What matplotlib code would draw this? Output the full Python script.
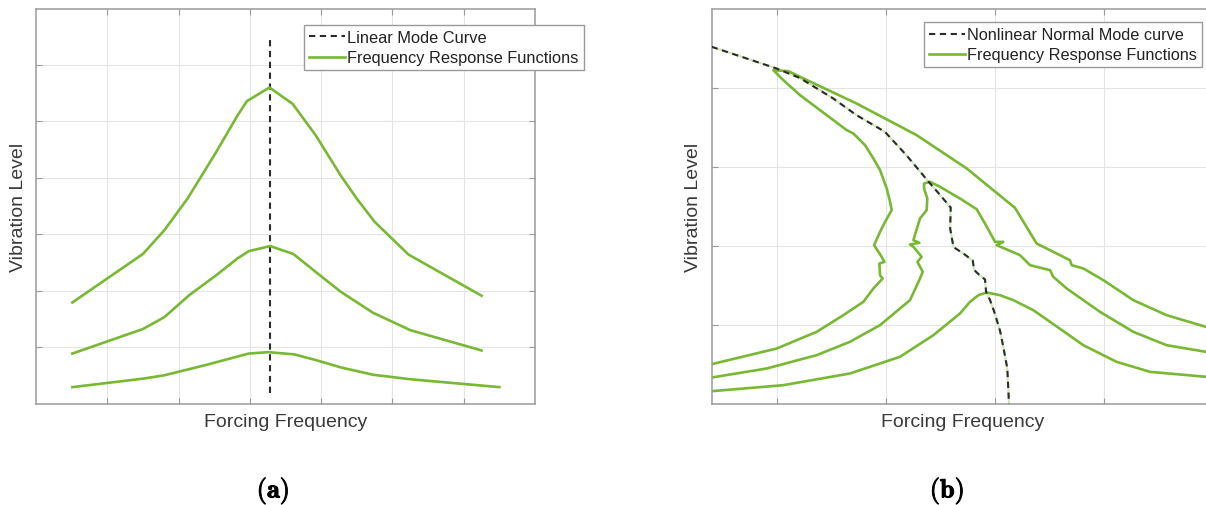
import numpy as np
import matplotlib
matplotlib.use("Agg")
import matplotlib.pyplot as plt
import matplotlib.patheffects as pe

plt.rcParams["font.family"] = ["Liberation Sans", "DejaVu Sans"]
plt.rcParams["mathtext.fontset"] = "cm"

GREEN = "#78b833"
DASH = "#2b2b2b"
SPINE = "#9a9a9a"
TEXT = "#3a3a3a"

# ---- panel (a): linear system ----
lmc_x = [3.285, 3.285]
lmc_y = [0.18, 6.46]

frf_a_high_x = [0.51, 1.50, 1.80, 2.125, 2.525, 2.825, 2.96, 3.275, 3.60, 3.925, 4.275, 4.50, 4.75, 5.225, 6.25]
frf_a_high_y = [1.79, 2.65, 3.07, 3.63, 4.45, 5.10, 5.36, 5.60, 5.31, 4.75, 4.04, 3.63, 3.22, 2.64, 1.91]

frf_a_mid_x = [0.51, 1.50, 1.80, 2.15, 2.525, 2.825, 2.985, 3.285, 3.61, 3.925, 4.275, 4.725, 5.25, 6.25]
frf_a_mid_y = [0.885, 1.32, 1.53, 1.92, 2.27, 2.57, 2.70, 2.79, 2.65, 2.33, 1.98, 1.61, 1.30, 0.94]

frf_a_low_x = [0.51, 1.50, 1.80, 2.375, 2.985, 3.26, 3.625, 3.925, 4.275, 4.725, 5.25, 6.50]
frf_a_low_y = [0.29, 0.44, 0.50, 0.68, 0.885, 0.91, 0.87, 0.77, 0.64, 0.51, 0.43, 0.29]

# ---- panel (b): nonlinear system ----
nnm_x = [0.40, 0.997, 1.21, 1.517, 1.73, 1.99, 2.19, 2.39, 2.497, 2.595, 2.59, 2.62, 2.71,
         2.797, 2.81, 2.864, 2.91, 2.92, 2.956, 3.00, 3.05, 3.08, 3.115, 3.13]
nnm_y = [4.515, 4.24, 4.12, 3.86, 3.65, 3.44, 3.14, 2.81, 2.64, 2.48, 2.215, 1.98, 1.90,
         1.81, 1.69, 1.62, 1.57, 1.41, 1.31, 1.14, 0.91, 0.70, 0.44, 0.0]

frf_b_high_x = [0.40, 0.997, 1.364, 1.609, 1.793, 1.885, 1.970, 1.946, 1.940, 1.986, 1.961, 1.891,
                1.946, 1.992, 2.053, 2.038, 2.007, 1.946, 1.885, 1.808, 1.701, 1.640, 1.456, 1.211,
                1.058, 0.966, 1.104, 1.211, 1.731, 2.282, 2.742, 3.185, 3.384, 3.476, 3.690, 3.706,
                3.813, 3.997, 4.272, 4.578, 4.939]
frf_b_high_y = [0.498, 0.696, 0.907, 1.118, 1.287, 1.456, 1.582, 1.624, 1.772, 1.793, 1.857, 2.004,
                2.173, 2.300, 2.447, 2.553, 2.722, 2.954, 3.101, 3.270, 3.418, 3.460, 3.650, 3.903,
                4.093, 4.219, 4.207, 4.135, 3.797, 3.397, 2.975, 2.477, 2.025, 1.962, 1.814, 1.751,
                1.709, 1.561, 1.308, 1.118, 0.970]

frf_b_mid_x = [0.40, 0.905, 1.364, 1.670, 1.946, 2.129, 2.221, 2.313, 2.338, 2.289, 2.328, 2.252,
               2.221, 2.307, 2.252, 2.313, 2.374, 2.380, 2.350, 2.350, 2.405, 2.497, 2.680, 2.833,
               2.910, 3.002, 3.078, 3.017, 3.231, 3.293, 3.323, 3.507, 3.537, 3.660, 3.966, 4.272,
               4.578, 4.939]
frf_b_mid_y = [0.329, 0.443, 0.612, 0.781, 0.992, 1.203, 1.308, 1.582, 1.667, 1.793, 1.857, 1.983,
               2.013, 2.034, 2.068, 2.342, 2.447, 2.595, 2.722, 2.785, 2.806, 2.743, 2.595, 2.460,
               2.278, 2.046, 2.046, 2.004, 1.878, 1.793, 1.751, 1.688, 1.603, 1.456, 1.160, 0.907,
               0.738, 0.654]

frf_b_low_x = [0.40, 1.058, 1.670, 2.129, 2.436, 2.680, 2.772, 2.849, 2.925, 3.048, 3.170, 3.354,
               3.507, 3.813, 4.119, 4.425, 4.939]
frf_b_low_y = [0.156, 0.232, 0.380, 0.591, 0.865, 1.139, 1.287, 1.371, 1.405, 1.371, 1.308, 1.181,
               1.034, 0.738, 0.527, 0.401, 0.338]


def style_axes(ax, xticks, yticks):
    ax.set_xticks(xticks)
    ax.set_yticks(yticks)
    ax.set_xticklabels([])
    ax.set_yticklabels([])
    ax.tick_params(direction="in", length=4, width=0.8, color=SPINE,
                   top=True, right=True)
    ax.grid(True, color="#e4e4e4", linewidth=0.8)
    ax.set_axisbelow(True)
    for s in ax.spines.values():
        s.set_color(SPINE)
        s.set_linewidth(1.1)


fig = plt.figure(figsize=(12.06, 5.06), dpi=100)
W, H = 1206, 506

# left panel
ax1 = fig.add_axes([36 / W, (H - 404.5) / H, 499 / W, 395 / H])
ax1.set_xlim(0, 7)
ax1.set_ylim(0, 7)
style_axes(ax1, range(1, 7), range(1, 7))
ax1.plot(lmc_x, lmc_y, color=DASH, lw=1.5, ls=(0, (3, 2.2)), label="Linear Mode Curve")
ax1.plot(frf_a_high_x, frf_a_high_y, color=GREEN, lw=1.9, label="Frequency Response Functions")
ax1.plot(frf_a_mid_x, frf_a_mid_y, color=GREEN, lw=1.9)
ax1.plot(frf_a_low_x, frf_a_low_y, color=GREEN, lw=1.9)
ax1.set_xlabel("Forcing Frequency", fontsize=14, color=TEXT)
ax1.set_ylabel("Vibration Level", fontsize=14, color=TEXT)
ax1.xaxis.set_label_coords(0.5, -0.024)
ax1.yaxis.set_label_coords(-0.018, 0.5)
leg1 = ax1.legend(loc="upper left", bbox_to_anchor=(0.537, 0.958), fontsize=11.8,
                  handlelength=2.2, handletextpad=0.15, labelspacing=0.32,
                  borderpad=0.3, borderaxespad=0, fancybox=False, framealpha=1)
leg1.get_frame().set_edgecolor(SPINE)
for t in leg1.get_texts():
    t.set_color("#222222")

# right panel
ax2 = fig.add_axes([711.7 / W, (H - 404.5) / H, 500.9 / W, 395 / H])
ax2.set_xlim(0.4, 5.0)
ax2.set_ylim(0, 5)
style_axes(ax2, range(1, 5), range(1, 5))
ax2.plot(nnm_x, nnm_y, color="#cfe8b8", lw=1.5, zorder=2)
ax2.plot(nnm_x, nnm_y, color=DASH, lw=1.5, ls=(0, (3, 2.2)), zorder=3,
         label="Nonlinear Normal Mode curve")
ax2.plot(frf_b_high_x, frf_b_high_y, color=GREEN, lw=1.9, zorder=2,
         label="Frequency Response Functions")
ax2.plot(frf_b_mid_x, frf_b_mid_y, color=GREEN, lw=1.9, zorder=2)
ax2.plot(frf_b_low_x, frf_b_low_y, color=GREEN, lw=1.9, zorder=2)
ax2.set_xlabel("Forcing Frequency", fontsize=14, color=TEXT)
ax2.set_ylabel("Vibration Level", fontsize=14, color=TEXT)
ax2.xaxis.set_label_coords(0.5, -0.024)
ax2.yaxis.set_label_coords(-0.019, 0.5)
leg2 = ax2.legend(loc="upper left", bbox_to_anchor=(0.424, 0.965), fontsize=11.7,
                  handlelength=2.2, handletextpad=0.15, labelspacing=0.32,
                  borderpad=0.3, borderaxespad=0, fancybox=False, framealpha=1)
leg2.get_frame().set_edgecolor(SPINE)
for t in leg2.get_texts():
    t.set_color("#222222")

bold = [pe.withStroke(linewidth=0.7, foreground="black")]
fig.text(273 / W, 1 - 492 / H, r"$\mathbf{(a)}$", ha="center", va="center",
         fontsize=19, path_effects=bold)
fig.text(947 / W, 1 - 492 / H, r"$\mathbf{(b)}$", ha="center", va="center",
         fontsize=19, path_effects=bold)

fig.savefig("out.png", dpi=100, facecolor="white")
